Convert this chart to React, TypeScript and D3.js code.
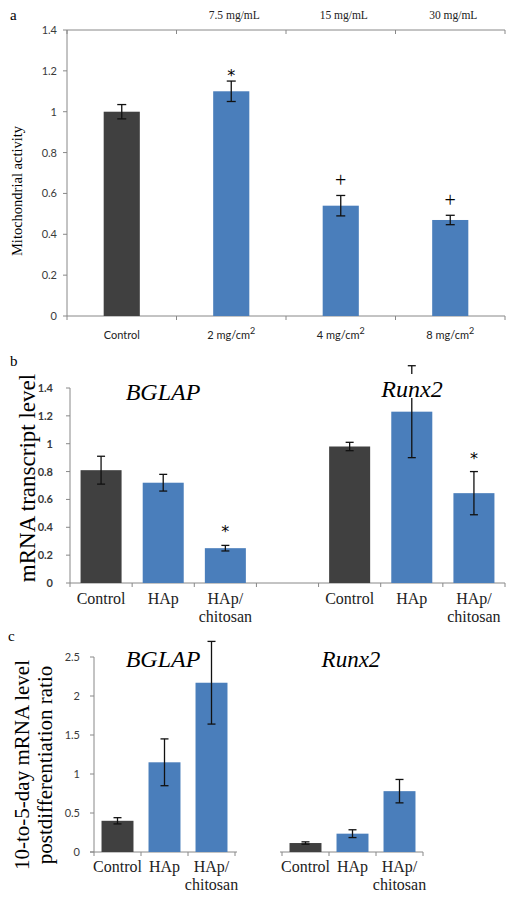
import React from "react";
import * as d3 from "d3";

// ---------- Data ----------
// Panel a
const aCategories = ["Control", "2 mg/cm", "4 mg/cm", "8 mg/cm"];
const aSuperscript = ["", "2", "2", "2"];
const aValues = [1.0, 1.1, 0.54, 0.47];
const aErrors = [0.035, 0.05, 0.05, 0.023];
const aMarkers = ["", "*", "+", "+"];
const aTopLabels = ["", "7.5 mg/mL", "15 mg/mL", "30 mg/mL"];
const aTicks = [0, 0.2, 0.4, 0.6, 0.8, 1, 1.2, 1.4];

// Panel b
const bCategories = ["Control", "HAp", "HAp/|chitosan", "", "Control", "HAp", "HAp/|chitosan"];
const bValues = [0.81, 0.72, 0.25, null, 0.98, 1.23, 0.645];
const bErrors = [0.1, 0.06, 0.02, null, 0.03, 0.33, 0.155];
const bMarkers = ["", "", "*", "", "", "", "*"];
const bTicks = [0, 0.2, 0.4, 0.6, 0.8, 1, 1.2, 1.4];

// Panel c
const cCategories = ["Control", "HAp", "HAp/|chitosan", "", "Control", "HAp", "HAp/|chitosan"];
const cValues = [0.4, 1.15, 2.17, null, 0.115, 0.235, 0.78];
const cErrors = [0.04, 0.3, 0.53, null, 0.015, 0.05, 0.15];
const cTicks = [0, 0.5, 1, 1.5, 2, 2.5];

const controlFlags = [true, false, false, false, true, false, false];

const DARK = "#404040";
const BLUE = "#4a7ebb";
const AXIS = "#888888";
const TICKTEXT = "#3a3a3a";
const SANS = "Lato, 'Open Sans', sans-serif";
const STAR = "'DejaVu Sans', sans-serif";
const SERIF = "'Liberation Serif', 'Times New Roman', serif";

const fmt = d3.format("~g");

function ErrorBar({ x, y1, y2, cap }: { x: number; y1: number; y2: number; cap: number }) {
  return (
    <g stroke="#111" strokeWidth={1.3}>
      <line x1={x} x2={x} y1={y1} y2={y2} />
      <line x1={x - cap / 2} x2={x + cap / 2} y1={y1} y2={y1} />
      <line x1={x - cap / 2} x2={x + cap / 2} y1={y2} y2={y2} />
    </g>
  );
}

function PanelA() {
  const y = d3.scaleLinear().domain([0, 1.4]).range([316, 30]);
  const x = d3.scaleBand<string>().domain(aCategories).range([67, 505]).paddingInner(0.67).paddingOuter(0.335);
  const step = x.step();
  const x0 = 67;
  return (
    <g>
      <text x={10} y={20} fontFamily={SERIF} fontSize={15}>a</text>
      <line x1={x0} x2={x0} y1={y(0)} y2={y(1.4)} stroke={AXIS} />
      <line x1={x0} x2={505} y1={y(0)} y2={y(0)} stroke={AXIS} />
      <line x1={x0} x2={505} y1={y(1.4)} y2={y(1.4)} stroke={AXIS} />
      {aTicks.map((t) => (
        <g key={t}>
          <line x1={x0 - 4} x2={x0} y1={y(t)} y2={y(t)} stroke={AXIS} />
          <text x={x0 - 10} y={y(t) + 4} textAnchor="end" fontFamily={SANS} fontSize={11} fill={TICKTEXT}>
            {fmt(t)}
          </text>
        </g>
      ))}
      {d3.range(aCategories.length + 1).map((i) => (
        <g key={i}>
          <line x1={x0 + i * step} x2={x0 + i * step} y1={y(0)} y2={y(0) + 4} stroke={AXIS} />
          <line x1={x0 + i * step} x2={x0 + i * step} y1={y(1.4)} y2={y(1.4) + 4} stroke={AXIS} />
        </g>
      ))}
      {aCategories.map((c, i) => {
        const cx = (x(c) as number) + x.bandwidth() / 2;
        const top = y(aValues[i] + aErrors[i]);
        return (
          <g key={c}>
            <rect x={x(c)} y={y(aValues[i])} width={x.bandwidth()} height={y(0) - y(aValues[i])} fill={i === 0 ? DARK : BLUE} />
            <ErrorBar x={cx} y1={top} y2={y(aValues[i] - aErrors[i])} cap={9} />
            {aMarkers[i] === "*" && (
              <text x={cx} y={top} textAnchor="middle" fontFamily={STAR} fontSize={16}>*</text>
            )}
            {aMarkers[i] === "+" && (
              <text x={cx} y={top - 8} textAnchor="middle" fontFamily={SERIF} fontSize={20} fontWeight={300}>+</text>
            )}
            <text x={cx} y={339} textAnchor="middle" fontFamily={SANS} fontSize={11} fill="#222">
              {c}
              {aSuperscript[i] && (
                <tspan fontSize={9} dy={-5}>{aSuperscript[i]}</tspan>
              )}
            </text>
            {aTopLabels[i] && (
              <text x={cx + 3} y={19} textAnchor="middle" fontFamily={SERIF} fontSize={11.5} fill="#222">
                {aTopLabels[i]}
              </text>
            )}
          </g>
        );
      })}
      <text
        transform={`translate(17, ${191}) rotate(-90)`}
        textAnchor="middle"
        dominantBaseline="central"
        fontFamily={SERIF}
        fontSize={14.5}
      >
        Mitochondrial activity
      </text>
    </g>
  );
}

function CatLabel({ label, cx, y, size }: { label: string; cx: number; y: number; size: number }) {
  const parts = label.split("|");
  return (
    <text x={cx} y={y} textAnchor="middle" fontFamily={SERIF} fontSize={size} fill="#222">
      {parts.map((p, i) => (
        <tspan key={i} x={cx} dy={i === 0 ? 0 : size * 1.1}>
          {p}
        </tspan>
      ))}
    </text>
  );
}

function PanelB() {
  const y = d3.scaleLinear().domain([0, 1.4]).range([583, 388]);
  const keys = bCategories.map((c, i) => `${i}`);
  const x = d3.scaleBand<string>().domain(keys).range([70, 505]).paddingInner(0.34).paddingOuter(0.17);
  const step = x.step();
  const x0 = 70;
  return (
    <g>
      <text x={10} y={366} fontFamily={SERIF} fontSize={15}>b</text>
      <line x1={x0} x2={x0} y1={y(0)} y2={y(1.4)} stroke={AXIS} />
      <line x1={x0} x2={505} y1={y(0)} y2={y(0)} stroke={AXIS} />
      {bTicks.map((t) => (
        <g key={t}>
          <line x1={x0 - 4} x2={x0} y1={y(t)} y2={y(t)} stroke={AXIS} />
          <text x={x0 - 17} y={y(t) + 4} textAnchor="end" fontFamily={SANS} fontSize={11} fontWeight={700} fill={TICKTEXT}>
            {fmt(t)}
          </text>
        </g>
      ))}
      {d3.range(bCategories.length + 1).map((i) => (
        <line key={i} x1={x0 + i * step} x2={x0 + i * step} y1={y(0)} y2={y(0) + 4} stroke={AXIS} />
      ))}
      {bCategories.map((c, i) => {
        const v = bValues[i];
        const e = bErrors[i];
        if (v == null || e == null) return null;
        const cx = (x(keys[i]) as number) + x.bandwidth() / 2;
        const top = y(v + e);
        return (
          <g key={i}>
            <rect x={x(keys[i])} y={y(v)} width={x.bandwidth()} height={y(0) - y(v)} fill={controlFlags[i] ? DARK : BLUE} />
            <ErrorBar x={cx} y1={top} y2={y(v - e)} cap={8} />
            {bMarkers[i] === "*" && (
              <text x={cx} y={top - 8} textAnchor="middle" fontFamily={STAR} fontSize={16}>*</text>
            )}
            <CatLabel label={c} cx={cx} y={604} size={16} />
          </g>
        );
      })}
      <text x={163} y={400} textAnchor="middle" fontFamily={SERIF} fontStyle="italic" fontSize={24}>BGLAP</text>
      <rect x={378} y={374} width={70} height={24} fill="#fff" />
      <text x={412} y={397} textAnchor="middle" fontFamily={SERIF} fontStyle="italic" fontSize={24}>Runx2</text>
      <text
        transform={`translate(27, 478) rotate(-90)`}
        textAnchor="middle"
        dominantBaseline="central"
        fontFamily={SERIF}
        fontSize={23}
      >
        mRNA transcript level
      </text>
    </g>
  );
}

function PanelC() {
  const y = d3.scaleLinear().domain([0, 2.5]).range([852, 657]);
  const keys = cCategories.map((c, i) => `${i}`);
  const x = d3.scaleBand<string>().domain(keys).range([94, 423]).paddingInner(0.32).paddingOuter(0.16);
  const step = x.step();
  const x0 = 94;
  return (
    <g>
      <text x={8} y={641} fontFamily={SERIF} fontSize={15}>c</text>
      <line x1={x0} x2={x0} y1={y(0)} y2={y(2.5)} stroke={AXIS} />
      <line x1={x0 - 4} x2={x0 + 3 * step + 2} y1={y(0)} y2={y(0)} stroke={AXIS} />
      <line x1={x0 + 4 * step - 2} x2={x0 + 7 * step} y1={y(0)} y2={y(0)} stroke={AXIS} />
      {cTicks.map((t) => (
        <g key={t}>
          <line x1={x0 - 4} x2={x0} y1={y(t)} y2={y(t)} stroke={AXIS} />
          <text x={x0 - 14} y={y(t) + 4} textAnchor="end" fontFamily={SANS} fontSize={11} fill={TICKTEXT}>
            {fmt(t)}
          </text>
        </g>
      ))}
      {d3.range(cCategories.length + 1).map((i) => (
        <line key={i} x1={x0 + i * step} x2={x0 + i * step} y1={y(0)} y2={y(0) + 4} stroke={AXIS} />
      ))}
      {cCategories.map((c, i) => {
        const v = cValues[i];
        const e = cErrors[i];
        if (v == null || e == null) return null;
        const cx = (x(keys[i]) as number) + x.bandwidth() / 2;
        return (
          <g key={i}>
            <rect x={x(keys[i])} y={y(v)} width={x.bandwidth()} height={y(0) - y(v)} fill={controlFlags[i] ? DARK : BLUE} />
            <ErrorBar x={cx} y1={y(v + e)} y2={y(v - e)} cap={8} />
            <CatLabel label={c} cx={cx} y={872} size={16} />
          </g>
        );
      })}
      <text x={163} y={667} textAnchor="middle" fontFamily={SERIF} fontStyle="italic" fontSize={24}>BGLAP</text>
      <text x={351} y={667} textAnchor="middle" fontFamily={SERIF} fontStyle="italic" fontSize={23}>Runx2</text>
      <text
        transform={`translate(22, 765) rotate(-90)`}
        textAnchor="middle"
        dominantBaseline="central"
        fontFamily={SERIF}
        fontSize={21}
      >
        10-to-5-day mRNA level
      </text>
      <text
        transform={`translate(45, 765) rotate(-90)`}
        textAnchor="middle"
        dominantBaseline="central"
        fontFamily={SERIF}
        fontSize={21}
      >
        postdifferentiation ratio
      </text>
    </g>
  );
}

export default function App() {
  return (
    <svg
      width={517}
      height={900}
      viewBox="0 0 517 900"
      style={{ position: "absolute", left: 0, top: 0, background: "#fff" }}
    >
      <rect width={517} height={900} fill="#fff" />
      <PanelA />
      <PanelB />
      <PanelC />
    </svg>
  );
}
